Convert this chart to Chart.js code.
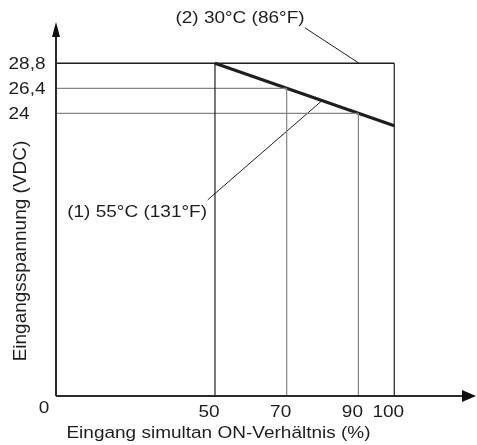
<!DOCTYPE html>
<html>
<head>
<meta charset="utf-8">
<script src="https://cdn.jsdelivr.net/npm/chart.js@4.4.0/dist/chart.umd.min.js"></script>
<style>
  html, body { margin: 0; padding: 0; background: #fff; }
  #wrap { width: 477px; height: 445px; }
</style>
</head>
<body>
<div id="wrap"><canvas id="derating" width="477" height="445"></canvas></div>
<script>
// Derating: input voltage vs. simultaneous ON ratio
const dutyTicks = [50, 70, 90, 100];
const dutyLabels = ['50', '70', '90', '100'];
const voltTicks = [28.8, 26.4, 24];
const voltLabels = ['28,8', '26,4', '24'];

// (2) 30°C: flat at 28,8 V over the whole range
const curve30x = [0, 100];
const curve30y = [28.8, 28.8];
// (1) 55°C: 28,8 V up to 50 %, then falling
const curve55x = [50, 100];
const curve55y = [28.8, 22.8];

// guide lines: vertical at each duty tick up to its voltage, horizontal for 26,4 / 24
const guideTop = [28.8, 26.4, 24, 28.8];
const guideGray = [false, true, true, false];
const hGuideVolt = [26.4, 24];
const hGuideEnd = [70, 90];

// leader lines from the labels to the curves
const leader30x = [75.1, 90.2];
const leader30y = [32.2, 28.8];
const leader55x = [48.0, 79.8];
const leader55y = [15.7, 25.2];

// schematic drawing, not to scale: origin sits a bit off 0
const X_MIN = 5.66, X_MAX = 122.8;
const Y_MIN = -3.13, Y_MAX = 32.76;

const INK = '#1e1e1e';
const GRAY = '#858585';

const pts = (xs, ys) => xs.map((x, i) => ({ x: x, y: ys[i] }));

const datasets = [];

dutyTicks.forEach((d, i) => {
  datasets.push({
    data: pts([d, d], [Y_MIN, guideTop[i]]),
    borderColor: guideGray[i] ? GRAY : INK,
    borderWidth: 1.2
  });
});
hGuideVolt.forEach((v, i) => {
  datasets.push({
    data: pts([X_MIN, hGuideEnd[i]], [v, v]),
    borderColor: GRAY,
    borderWidth: 1.2
  });
});
datasets.push({ data: pts(curve30x, curve30y), borderColor: INK, borderWidth: 1.4 });
datasets.push({ data: pts(curve55x, curve55y), borderColor: INK, borderWidth: 3 });
datasets.push({ data: pts(leader30x, leader30y), borderColor: INK, borderWidth: 1 });
datasets.push({ data: pts(leader55x, leader55y), borderColor: INK, borderWidth: 1 });

// text is a touch flat in the original
function flatText(ctx, text, x, y, align) {
  ctx.save();
  ctx.translate(x, y);
  ctx.scale(1, 0.86);
  ctx.textAlign = align || 'center';
  ctx.textBaseline = 'alphabetic';
  ctx.fillText(text, 0, 0);
  ctx.restore();
}

const decor = {
  id: 'decor',
  afterDraw(chart) {
    const ctx = chart.ctx;
    const xs = chart.scales.x, ys = chart.scales.y;
    const a = chart.chartArea;
    ctx.save();

    // axes with arrow heads
    ctx.strokeStyle = '#2a2a2a';
    ctx.fillStyle = '#111';
    ctx.lineWidth = 2;
    ctx.beginPath();
    ctx.moveTo(a.left, a.bottom);
    ctx.lineTo(a.left, a.top + 10);
    ctx.moveTo(a.left, a.bottom);
    ctx.lineTo(a.right - 10, a.bottom);
    ctx.stroke();
    ctx.beginPath();
    ctx.moveTo(a.left, a.top);
    ctx.lineTo(a.left - 4, a.top + 15);
    ctx.lineTo(a.left + 4, a.top + 15);
    ctx.closePath();
    ctx.fill();
    ctx.beginPath();
    ctx.moveTo(a.right, a.bottom);
    ctx.lineTo(a.right - 14, a.bottom - 6);
    ctx.lineTo(a.right - 14, a.bottom + 6);
    ctx.closePath();
    ctx.fill();

    ctx.fillStyle = INK;
    ctx.font = '19px "Liberation Sans", Arial, sans-serif';

    // tick labels
    voltTicks.forEach((v, i) => {
      flatText(ctx, voltLabels[i], 8.5, ys.getPixelForValue(v) + 6, 'left');
    });
    dutyTicks.forEach((d, i) => {
      flatText(ctx, dutyLabels[i], xs.getPixelForValue(d) - 6, 417, 'center');
    });
    flatText(ctx, '0', 44, 413, 'center');

    // axis titles
    flatText(ctx, 'Eingang simultan ON-Verhältnis (%)', 218.5, 438, 'center');
    ctx.save();
    ctx.translate(26, 251);
    ctx.rotate(-Math.PI / 2);
    ctx.textAlign = 'center';
    ctx.textBaseline = 'alphabetic';
    ctx.fillText('Eingangsspannung (VDC)', 0, 0);
    ctx.restore();

    // curve labels
    flatText(ctx, '(2) 30°C (86°F)', 240, 23.3, 'center');
    flatText(ctx, '(1) 55°C (131°F)', 207, 217, 'right');

    ctx.restore();
  }
};

new Chart(document.getElementById('derating'), {
  type: 'line',
  data: { datasets: datasets },
  options: {
    responsive: false,
    animation: false,
    layout: { padding: { left: 56, top: 22, right: 1, bottom: 49 } },
    elements: { point: { radius: 0 }, line: { tension: 0, borderCapStyle: 'butt' } },
    plugins: { legend: { display: false }, tooltip: { enabled: false } },
    scales: {
      x: { type: 'linear', min: X_MIN, max: X_MAX, display: false },
      y: { type: 'linear', min: Y_MIN, max: Y_MAX, display: false }
    }
  },
  plugins: [decor]
});
</script>
</body>
</html>
